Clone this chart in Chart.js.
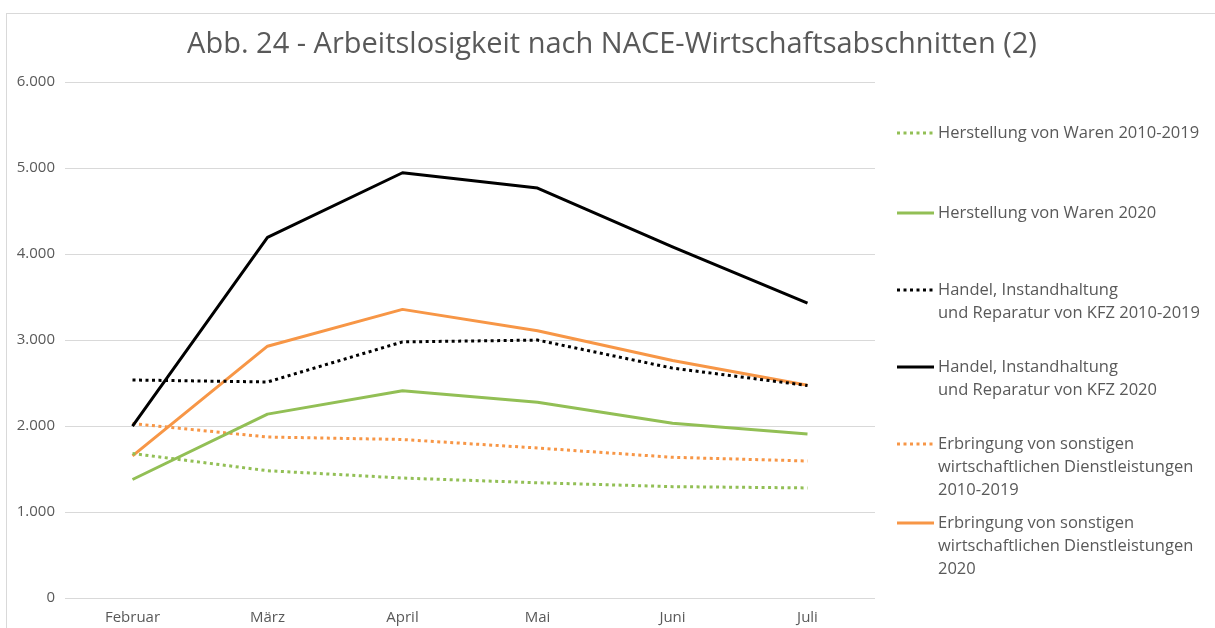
<!DOCTYPE html>
<html>
<head>
<meta charset="utf-8">
<script src="https://cdn.jsdelivr.net/npm/chart.js@4/dist/chart.umd.min.js"></script>
<style>
  html, body { margin: 0; padding: 0; background: #fff; }
  #wrap { width: 1215px; height: 628px; position: relative; }
</style>
</head>
<body>
<div id="wrap"><canvas id="chart" width="1215" height="628"></canvas></div>
<script>
const months = ['Februar', 'März', 'April', 'Mai', 'Juni', 'Juli'];

// Arbeitslose je Monat
const warenAvg   = [1680, 1480, 1395, 1340, 1295, 1280];
const waren2020  = [1378, 2138, 2410, 2277, 2032, 1908];
const handelAvg  = [2535, 2512, 2978, 2999, 2673, 2471];
const handel2020 = [1999, 4193, 4945, 4767, 4083, 3430];
const dienstAvg  = [2028, 1872, 1843, 1744, 1636, 1593];
const dienst2020 = [1652, 2928, 3356, 3108, 2762, 2475];

const seriesLabels = [
  ['Herstellung von Waren 2010-2019'],
  ['Herstellung von Waren 2020'],
  ['Handel, Instandhaltung', 'und Reparatur von KFZ 2010-2019'],
  ['Handel, Instandhaltung', 'und Reparatur von KFZ 2020'],
  ['Erbringung von sonstigen', 'wirtschaftlichen Dienstleistungen', '2010-2019'],
  ['Erbringung von sonstigen', 'wirtschaftlichen Dienstleistungen', '2020']
];

const yTicks = [0, 1000, 2000, 3000, 4000, 5000, 6000];

const chartTitle = 'Abb. 24 - Arbeitslosigkeit nach NACE-Wirtschaftsabschnitten (2)';

const GREEN = '#92BF55';
const ORANGE = '#F79646';
const BLACK = '#000000';
const TEXT = '#595959';
const FONT = "'Open Sans', sans-serif";

const dotted = [3, 3.5];

function line(label, data, color, dashed) {
  return {
    label: label.join(' '),
    data: data,
    borderColor: color,
    backgroundColor: color,
    borderWidth: 3,
    borderDash: dashed ? dotted : [],
    borderCapStyle: 'butt',
    borderJoinStyle: 'round',
    pointRadius: 0,
    tension: 0,
    fill: false
  };
}

// frame (only left and top edges visible) + title centred on the whole canvas
const framePlugin = {
  id: 'frame',
  beforeDraw(chart) {
    const ctx = chart.ctx;
    ctx.save();
    ctx.fillStyle = '#fff';
    ctx.fillRect(0, 0, chart.width, chart.height);
    ctx.strokeStyle = '#d9d9d9';
    ctx.lineWidth = 1;
    ctx.strokeRect(6.5, 13.5, chart.width + 20, chart.height + 20);
    ctx.fillStyle = TEXT;
    ctx.font = '29px ' + FONT;
    ctx.textAlign = 'center';
    ctx.textBaseline = 'middle';
    ctx.fillText(chartTitle, 612, 45);
    ctx.restore();
  }
};

// legend on the right with multi-line labels
const rowTops = [133, 213, 290, 367, 444, 523];
const legendPlugin = {
  id: 'sideLegend',
  afterDraw(chart) {
    const ctx = chart.ctx;
    ctx.save();
    ctx.font = '16.5px ' + FONT;
    ctx.textBaseline = 'middle';
    ctx.fillStyle = TEXT;
    chart.data.datasets.forEach((ds, i) => {
      const y = rowTops[i];
      ctx.strokeStyle = ds.borderColor;
      ctx.lineWidth = 3;
      ctx.lineCap = 'butt';
      ctx.setLineDash(ds.borderDash || []);
      ctx.beginPath();
      ctx.moveTo(897, y);
      ctx.lineTo(934, y);
      ctx.stroke();
      ctx.setLineDash([]);
      seriesLabels[i].forEach((txt, j) => {
        ctx.fillText(txt, 938, y + j * 23);
      });
    });
    ctx.restore();
  }
};

new Chart(document.getElementById('chart'), {
  type: 'line',
  data: {
    labels: months,
    datasets: [
      line(seriesLabels[0], warenAvg, GREEN, true),
      line(seriesLabels[1], waren2020, GREEN, false),
      line(seriesLabels[2], handelAvg, BLACK, true),
      line(seriesLabels[3], handel2020, BLACK, false),
      line(seriesLabels[4], dienstAvg, ORANGE, true),
      line(seriesLabels[5], dienst2020, ORANGE, false)
    ]
  },
  options: {
    responsive: false,
    animation: false,
    layout: { padding: { left: 0, right: 340, top: 82, bottom: 0 } },
    plugins: {
      legend: { display: false },
      tooltip: { enabled: false },
      title: { display: false }
    },
    scales: {
      x: {
        offset: true,
        grid: { display: false },
        border: { display: false },
        ticks: { color: TEXT, font: { family: FONT, size: 15 }, padding: 3, maxRotation: 0 },
        afterFit(scale) { scale.height = 30; }
      },
      y: {
        min: yTicks[0],
        max: yTicks[yTicks.length - 1],
        afterBuildTicks(scale) { scale.ticks = yTicks.map(v => ({ value: v })); },
        grid: { color: '#d9d9d9', lineWidth: 1, drawTicks: false },
        border: { display: false },
        ticks: {
          color: TEXT,
          font: { family: FONT, size: 15 },
          padding: 10,
          callback: v => v.toLocaleString('de-DE')
        },
        afterFit(scale) { scale.width = 65; }
      }
    }
  },
  plugins: [framePlugin, legendPlugin]
});
</script>
</body>
</html>
